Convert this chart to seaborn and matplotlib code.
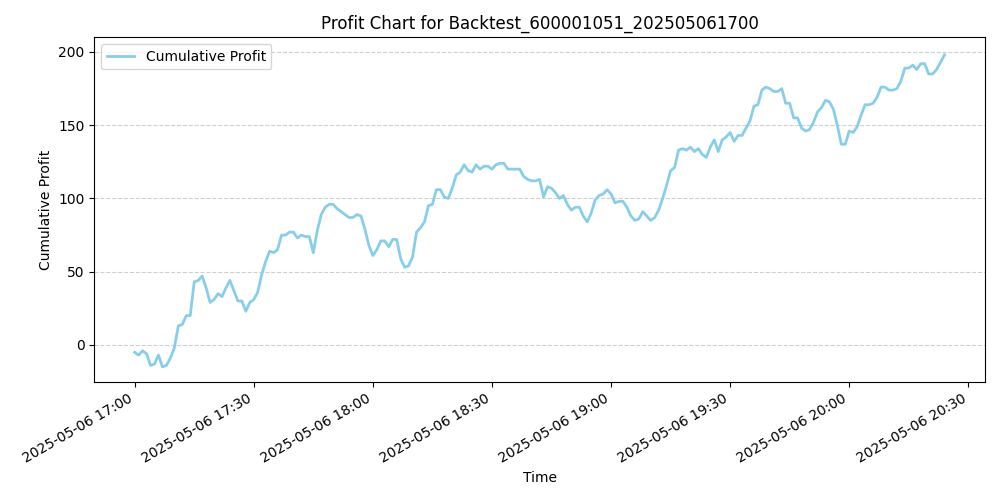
import numpy as np
import pandas as pd
import matplotlib
matplotlib.use("Agg")
import matplotlib.pyplot as plt
import matplotlib.dates as mdates
import seaborn as sns

start_time = "2025-05-06 17:00"
profit = [
    -5, -7, -4, -6, -14, -13, -7, -15, -14, -9, -2, 13, 14, 20, 20, 43, 44, 47, 39, 29,
    31, 35, 33, 39, 44, 37, 30, 30, 23, 29, 31, 36, 48, 57, 64, 63, 65, 75, 75, 77,
    77, 73, 75, 74, 74, 63, 78, 89, 94, 96, 96, 93, 91, 89, 87, 87, 89, 88, 79, 68,
    61, 65, 71, 71, 67, 72, 72, 59, 53, 54, 60, 77, 80, 84, 95, 96, 106, 106, 101, 100,
    107, 116, 118, 123, 119, 118, 123, 120, 122, 122, 120, 123, 124, 124, 120, 120, 120, 120, 115, 113,
    112, 112, 113, 101, 108, 107, 104, 100, 102, 96, 92, 94, 94, 88, 84, 90, 99, 102, 103, 106,
    103, 97, 98, 98, 94, 88, 85, 86, 91, 88, 85, 87, 92, 100, 109, 119, 121, 133, 134, 133,
    135, 132, 134, 130, 128, 135, 140, 132, 140, 142, 145, 139, 143, 143, 148, 153, 163, 164, 174, 176,
    175, 173, 173, 175, 165, 165, 155, 155, 148, 146, 147, 152, 159, 162, 167, 166, 161, 150, 137, 137,
    146, 145, 149, 157, 164, 164, 165, 169, 176, 176, 174, 174, 175, 180, 189, 189, 191, 188, 192, 192,
    185, 185, 188, 193, 198,
]

df = pd.DataFrame({
    "Time": pd.date_range(start_time, periods=len(profit), freq="1min"),
    "Cumulative Profit": profit,
})

fig, ax = plt.subplots(figsize=(10, 5), dpi=100)
sns.lineplot(data=df, x="Time", y="Cumulative Profit", ax=ax,
             color="skyblue", linewidth=2, label="Cumulative Profit")
ax.set_title("Profit Chart for Backtest_600001051_202505061700")
ax.set_xlabel("Time")
ax.set_ylabel("Cumulative Profit")
ax.grid(True, axis="y", linestyle="--", alpha=0.6)
ax.xaxis.set_major_locator(mdates.MinuteLocator(byminute=[0, 30]))
ax.xaxis.set_major_formatter(mdates.DateFormatter("%Y-%m-%d %H:%M"))
ax.set_ylim(-25, 210)
fig.autofmt_xdate()
ax.legend(loc="upper left")
plt.tight_layout()
plt.savefig("out.png")
